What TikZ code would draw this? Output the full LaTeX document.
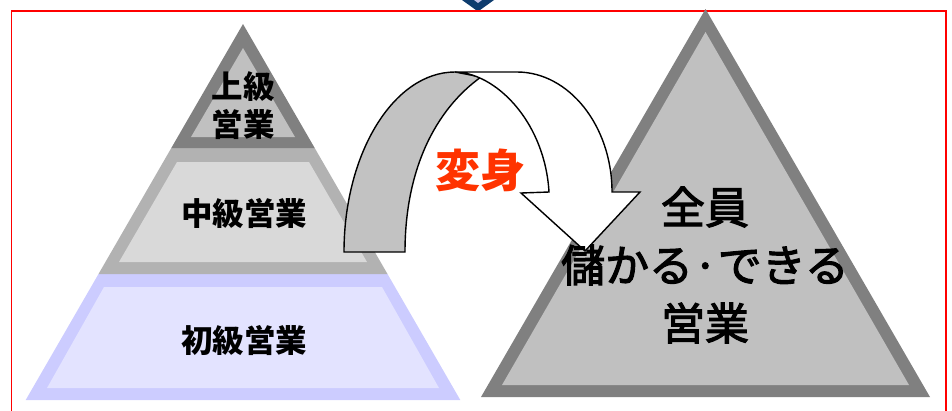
\documentclass[tikz,border=0pt]{standalone}
\usepackage{fontspec}
\newfontfamily\jp{Noto Sans CJK JP}
\newfontfamily\jpmed[FakeBold=2.5]{Noto Sans CJK JP}
\definecolor{dgray}{HTML}{808080}
\definecolor{lgray}{HTML}{C0C0C0}
\definecolor{mborder}{HTML}{B2B2B2}
\definecolor{mfill}{HTML}{D9D9D9}
\definecolor{bborder}{HTML}{CCCCFF}
\definecolor{bfill}{HTML}{E3E3FF}
\definecolor{navy}{HTML}{0E3C6E}
\definecolor{henred}{HTML}{FF3300}
\tikzset{
  lbl/.style={font=\jp\bfseries\fontsize{31.5}{38}\selectfont, align=center, inner sep=0pt},
  bigtxt/.style={font=\jpmed\fontsize{44}{58}\selectfont, align=center, inner sep=0pt},
  henshin/.style={font=\jp\bfseries\fontsize{45}{50}\selectfont, text=henred, inner sep=0pt},
  arrowline/.style={draw=black, line width=1.4pt, line join=miter}
}
\begin{document}
\begin{tikzpicture}[x=1pt,y=-1pt]
\useasboundingbox (0,0) rectangle (952,410);
% top navy chevron
\fill[navy] (462,0) -- (478,11.5) -- (494,0) -- cycle;
\fill[white!60!cyan!40!blue!30] (474,0) -- (478,3) -- (482,0) -- cycle;
% red frame
\draw[red, line width=1.5pt] (11.5,11) rectangle (946,430);
% left pyramid: bottom
\fill[bborder] (98.5,274) -- (387.5,274) -- (460.3,400) -- (25.7,400) -- cycle;
\fill[bfill] (104,287) -- (382,287) -- (439,388) -- (47,388) -- cycle;
% middle
\fill[mborder] (171.3,148) -- (314.7,148) -- (387.5,274) -- (98.5,274) -- cycle;
\fill[mfill] (177,162) -- (309,162) -- (367,262) -- (119,262) -- cycle;
% top
\fill[dgray] (243,24) -- (314.7,148) -- (171.3,148) -- cycle;
\fill[lgray] (243,48) -- (295,137) -- (191,137) -- cycle;
% right pyramid
\fill[dgray] (705.5,9) -- (930,397) -- (481,397) -- cycle;
\fill[lgray] (705.5,32) -- (909,385) -- (502,385) -- cycle;
% curved arrow: back (gray) band
\filldraw[arrowline, fill=mborder!60!mfill] (344,252) .. controls (344,153) and (394,72) .. (455,72)
  -- (481,77) .. controls (435,110) and (405,170) .. (405,252) -- cycle;
% front (white) band with head
\filldraw[arrowline, fill=white] (455,72) -- (517,72) .. controls (569,72) and (612,126) .. (612,192)
  -- (640,192) -- (585,251) -- (521,193) -- (549,192)
  .. controls (545,125) and (500,76) .. (458,72) -- cycle;
% labels
\node[lbl] (top) at (243,106) {上級\\営業};
\node[lbl] (mid) at (244,213) {中級営業};
\node[lbl] (bot) at (244,340) {初級営業};
\node[henshin] (hen) at (480,170) {変身};
\node[bigtxt] (all) at (705,265) {全員\\儲かる·できる\\営業};
\end{tikzpicture}
\end{document}
